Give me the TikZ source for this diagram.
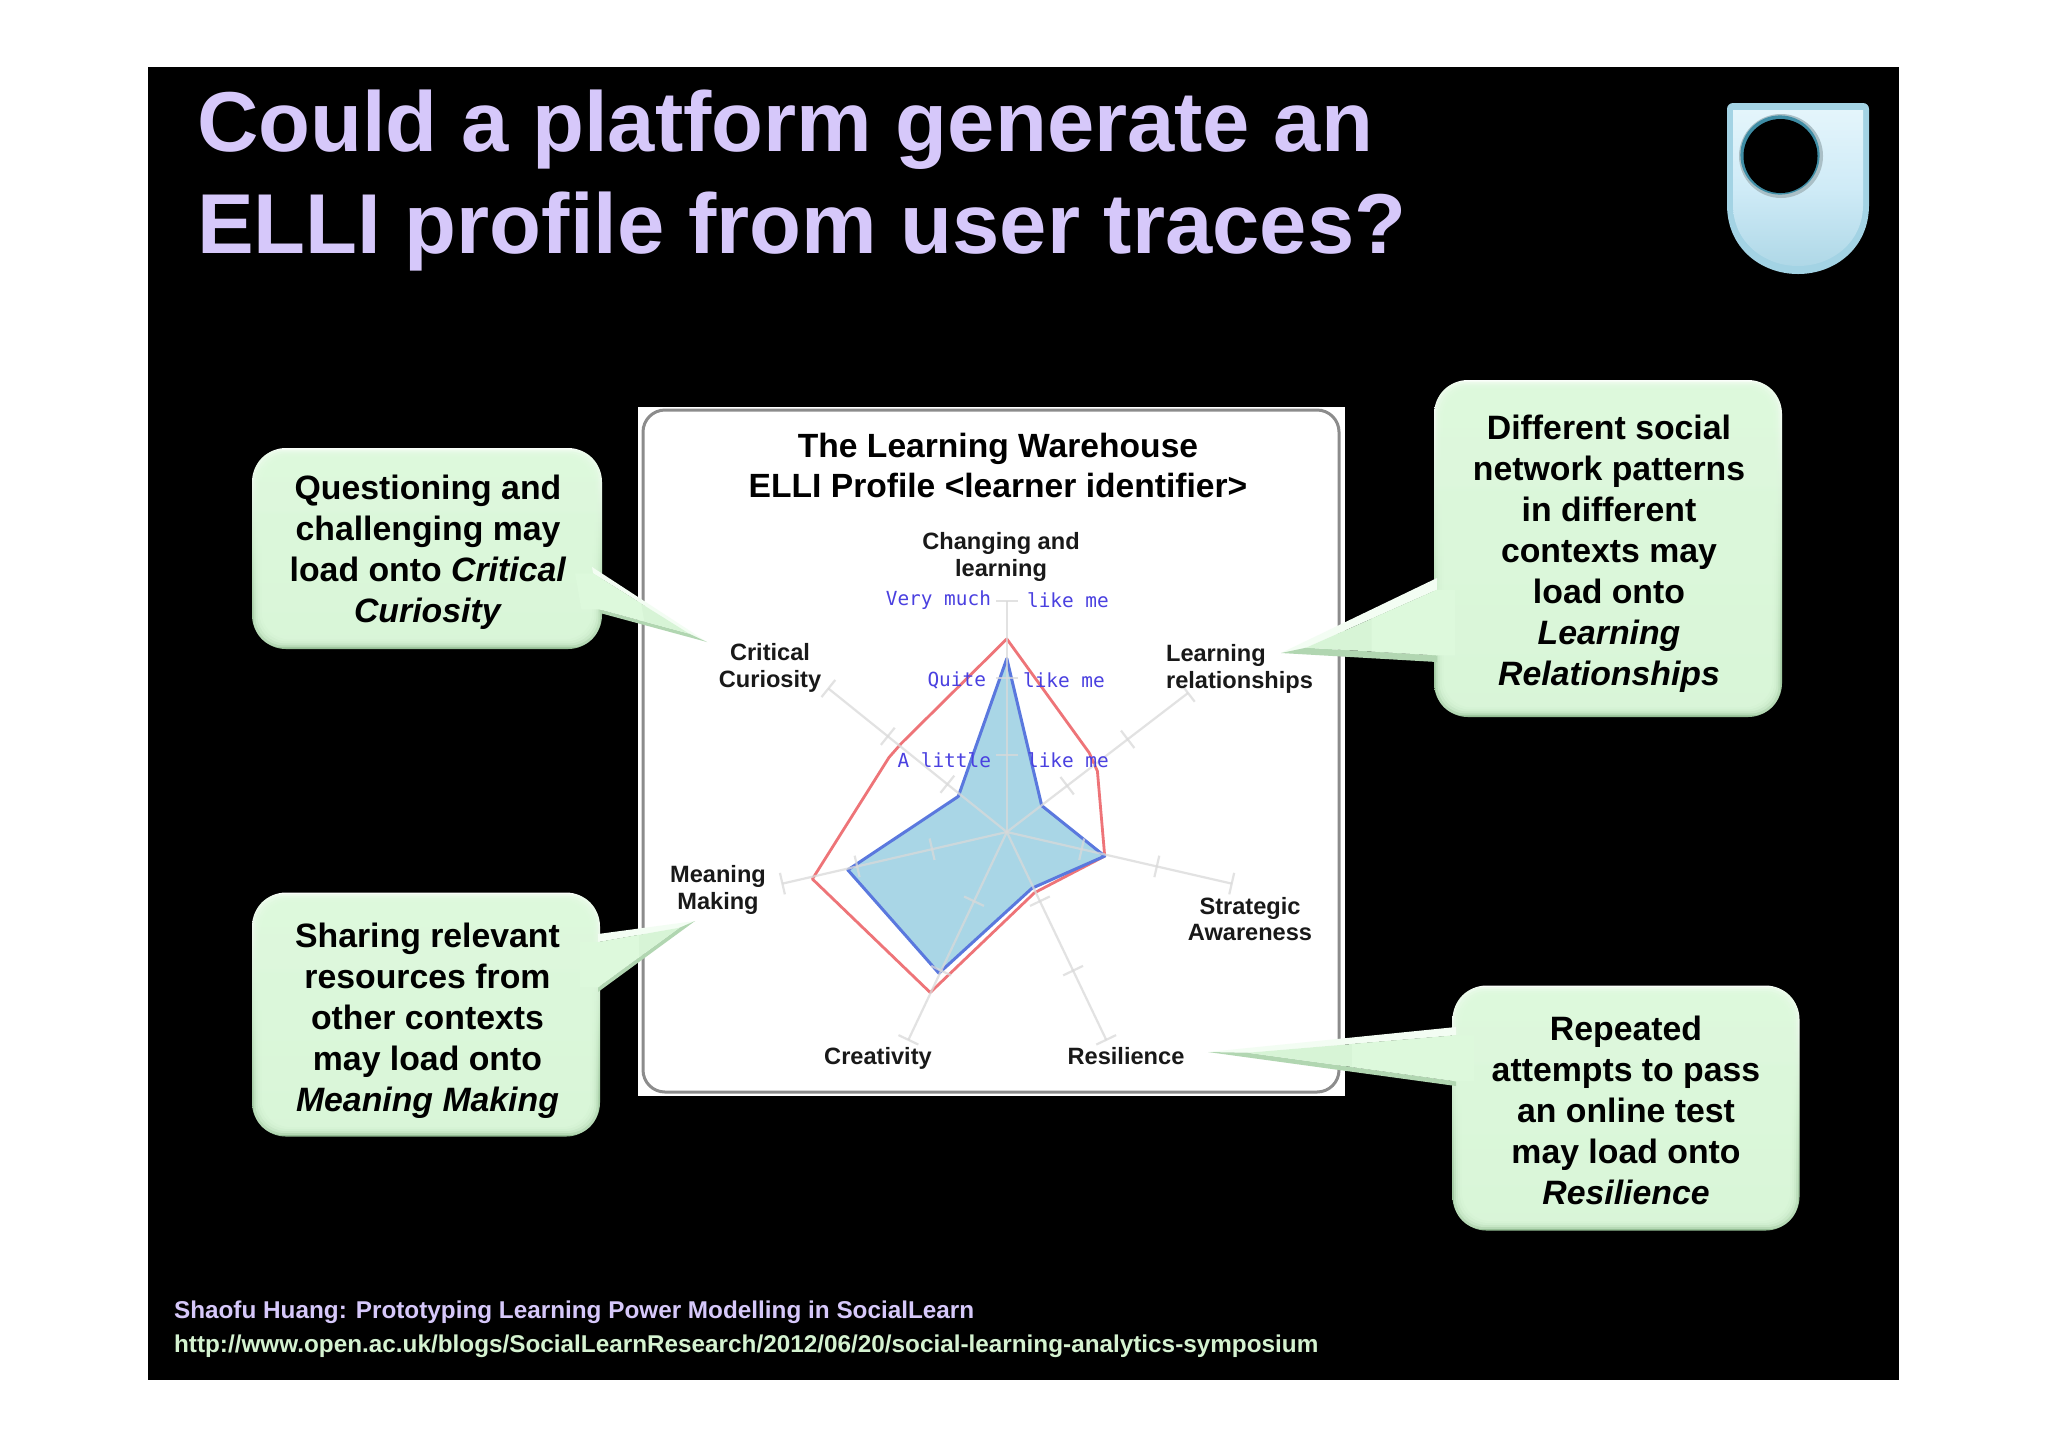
\documentclass[tikz,border=0pt]{standalone}
\usepackage{fontspec}
\setmainfont{Liberation Sans}
\newfontfamily\chartmono{DejaVu Sans Mono}
\usetikzlibrary{calc}
\definecolor{slidetitle}{HTML}{D6C8FA}
\definecolor{boxgreen}{HTML}{DDF9DC}
\definecolor{boxedge}{HTML}{94BE94}
\definecolor{urlgreen}{HTML}{D4F2D0}
\definecolor{chartblue}{HTML}{4A40E0}
\definecolor{logoedge}{HTML}{A3D3E4}
\definecolor{logotop}{HTML}{E4F5FB}
\definecolor{logomid}{HTML}{CFEBF7}
\definecolor{logolow}{HTML}{AFD8E7}
\definecolor{logoring}{HTML}{3F8DA5}
\definecolor{spiderfill}{HTML}{A9D6E6}
\definecolor{spiderblue}{HTML}{5A78DE}
\definecolor{spiderred}{HTML}{EE7478}
\tikzset{
  slidetext/.style={text=slidetitle, font=\bfseries\fontsize{42.5}{51}\selectfont, anchor=west, align=left},
  foottext/.style={font=\bfseries\fontsize{12.15}{15}\selectfont, anchor=west},
  boxouter/.style={rounded corners=17pt, inner sep=0pt, top color=white!85!boxgreen, bottom color=boxedge, middle color=boxgreen!75!boxedge},
  boxtext/.style={align=center, text=black, font=\bfseries\fontsize{16.9}{20.5}\selectfont},
  axisline/.style={draw=black!15, line width=1.1pt},
  axislabel/.style={align=center, text=black!90, font=\bfseries\fontsize{11.8}{13.4}\selectfont},
  likelabel/.style={text=chartblue, font=\chartmono\fontsize{9.7}{11}\selectfont},
}
\newcommand{\calloutbox}[5]{%
  \node[boxouter, minimum width=#4*0.5pt, minimum height=#5*0.5pt] (#1) at (#2,#3) {};
  \foreach \inset in {2,4,6,8,10}
    \fill[boxgreen, rounded corners=14pt, fill opacity=0.45]
      ($(#1.south west)+(\inset,-\inset)$) rectangle ($(#1.north east)+(-\inset,\inset)$);
}
% upper base, tip, lower base, step into the box
\newcommand{\callouttail}[4]{%
  \coordinate (ia) at ($(#1)!0.14!(#3)$);
  \coordinate (ib) at ($(#1)!0.92!(#3)$);
  \coordinate (it) at ($(#2)!0.16!($(#1)!0.5!(#3)$)$);
  \fill[white!65!boxgreen] (#1) -- (#2) -- (it) -- (ia) -- cycle;
  \fill[boxgreen!40!boxedge] (#3) -- (#2) -- (it) -- (ib) -- cycle;
  \fill[boxgreen!92!boxedge] (ia) -- (it) -- (ib) -- cycle;
  \fill[boxgreen] (ia) -- ($(ia)!0.5!(it)$) -- ($(ib)!0.5!(it)$) -- (ib) -- ($(ib)+(#4,0)$) -- ($(ia)+(#4,0)$) -- cycle;
}
\begin{document}
\begin{tikzpicture}[x=0.5pt, y=-0.5pt]
  \useasboundingbox (0,0) rectangle (2048,1447);
  \fill[white] (0,0) rectangle (2048,1447);
  \fill[black] (148,67) rectangle (1899,1380);
  % title
  \node[slidetext] (titleA) at (190,130) {Could a platform generate an};
  \node[slidetext] (titleB) at (190,232) {ELLI profile from user traces?};
  % logo
  \fill[logoedge] (1727,108) [rounded corners=3pt] -- (1727,103) -- (1869,103) [sharp corners] -- (1869,205)
    .. controls (1869,248) and (1835,274) .. (1798,274) .. controls (1761,274) and (1727,248) .. (1727,205) -- cycle;
  \shade[top color=logotop, bottom color=logolow, middle color=logomid]
    (1733,110) -- (1863,110) -- (1863,205)
    .. controls (1863,242) and (1832,266) .. (1798,266) .. controls (1764,266) and (1733,242) .. (1733,205) -- cycle;
  \fill[logoedge!70!black!60!white] (1781,156) circle (21pt);
  \fill[logoring] (1780,155) circle (19.8pt);
  \fill[black] (1780.5,156) circle (18.5pt);
  % chart panel
  \fill[white] (638,407) rectangle (1345,1096);
  \draw[draw=black!45, line width=1.5pt, rounded corners=11pt] (643,410) rectangle (1339,1092);
  \node[align=center, font=\bfseries\fontsize{16.8}{20}\selectfont] (panelhead) at (998,465) {The Learning Warehouse\\ELLI Profile <learner identifier>};
  % axes
  \coordinate (ctr) at (1006.8,832);
  \coordinate (axA) at (1006.8,601);
  \coordinate (axB) at (1188,693);
  \coordinate (axC) at (1231.7,883.6);
  \coordinate (axD) at (1106.2,1039.8);
  \coordinate (axE) at (908.4,1039.8);
  \coordinate (axF) at (782.4,883.6);
  \coordinate (axG) at (828.4,688.5);
  \draw[draw=spiderred, line width=1.4pt, line join=round] (1006.8,638.9) -- (1089.2,752.8) -- (1097.4,771.1) -- (1104.7,856.1) -- (1034.4,892.8)
    -- (930.2,992.5) -- (812.4,879) -- (889,757.4) -- (901.1,743.6) -- cycle;
  \draw[draw=spiderblue, fill=spiderfill, line width=1.5pt, line join=round] (1006.8,658.6) -- (1041.7,805.6) -- (1104.7,856.1) -- (1032,888.2)
    -- (938.9,973.2) -- (847.8,869.9) -- (958.3,796.4) -- cycle;
  \foreach \e in {axA,axB,axC,axD,axE,axF,axG} {
    \draw[axisline, draw opacity=0.75] (ctr) -- (\e);
    \foreach \t in {0.333,0.667,1} {
      \coordinate (tk) at ($(ctr)!\t!(\e)$);
      \draw[axisline, draw opacity=0.75] ($(tk)!5.5pt!90:(ctr)$) -- ($(tk)!5.5pt!-90:(ctr)$);
    }
  }
  % axis names
  \node[axislabel] (lblA) at (1001,557) {Changing and\\learning};
  \node[axislabel] (lblG) at (770,668) {Critical\\Curiosity};
  \node[axislabel, align=left, anchor=west] (lblB) at (1159,669) {Learning\\relationships};
  \node[axislabel] (lblF) at (718,890) {Meaning\\Making};
  \node[axislabel] (lblC) at (1250,919) {Strategic\\Awareness};
  \node[axislabel] (lblE) at (878,1058) {Creativity};
  \node[axislabel] (lblD) at (1126,1056) {Resilience};
  % like me scale
  \node[likelabel, anchor=east] (vmL) at (998,600) {Very much};
  \node[likelabel, anchor=west] (vmR) at (1020,600) {like me};
  \node[likelabel, anchor=east] (qtL) at (993,680) {Quite};
  \node[likelabel, anchor=west] (qtR) at (1016,680) {like me};
  \node[likelabel, anchor=east] (ltL) at (998,760) {A little};
  \node[likelabel, anchor=west] (ltR) at (1020,760) {like me};
  % callouts
  \calloutbox{boxQ}{427}{548.5}{350}{201}
  \calloutbox{boxD}{1608}{548.5}{348}{337}
  \calloutbox{boxS}{426}{1014.5}{348}{244}
  \calloutbox{boxR}{1626}{1108}{347}{245}
  \coordinate (tipQ) at (707,642);
  \coordinate (tipD) at (1281,653);
  \coordinate (tipS) at (695,921);
  \coordinate (tipR) at (1208,1052);
  \coordinate (baseQa) at (592,567);
  \coordinate (baseQb) at (600,613);
  \coordinate (baseDa) at (1437,578);
  \coordinate (baseDb) at (1437,662);
  \coordinate (baseSa) at (598,934);
  \coordinate (baseSb) at (598,992);
  \coordinate (baseRa) at (1456,1027);
  \coordinate (baseRb) at (1456,1086);
  \callouttail{baseQa}{tipQ}{baseQb}{-18}
  \callouttail{baseDa}{tipD}{baseDb}{18}
  \callouttail{baseSa}{tipS}{baseSb}{-18}
  \callouttail{baseRa}{tipR}{baseRb}{18}
  \node[boxtext] (txtQ) at (428,552.5) {Questioning and\\challenging may\\load onto \textit{Critical}\\\textit{Curiosity}};
  \node[boxtext] (txtD) at (1609,554) {Different social\\network patterns\\in different\\contexts may\\load onto\\\textit{Learning}\\\textit{Relationships}};
  \node[boxtext] (txtS) at (427.5,1021) {Sharing relevant\\resources from\\other contexts\\may load onto\\\textit{Meaning Making}};
  \node[boxtext] (txtR) at (1626,1110) {Repeated\\attempts to pass\\an online test\\may load onto\\\textit{Resilience}};
  % footer
  \node[foottext, text=slidetitle] (srcA) at (167,1312) {Shaofu Huang: Prototyping Learning Power Modelling in SocialLearn};
  \node[foottext, text=urlgreen] (srcB) at (167,1346) {http://www.open.ac.uk/blogs/SocialLearnResearch/2012/06/20/social-learning-analytics-symposium};
\end{tikzpicture}
\end{document}
